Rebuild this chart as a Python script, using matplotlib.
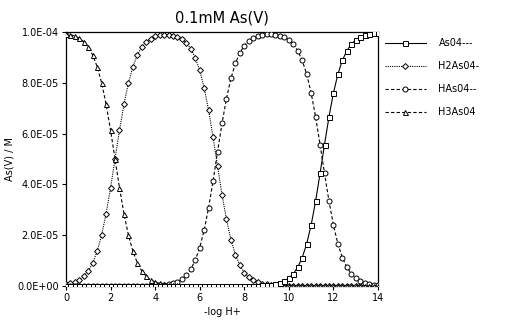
import numpy as np
import matplotlib
matplotlib.use("Agg")
import matplotlib.pyplot as plt

# pH grid: 0.0 .. 14.0 step 0.2 (71 points)
ph = [round(0.2 * i, 1) for i in range(71)]

# concentrations in units of 1e-5 M
h3aso4 = [9.94, 9.90, 9.84, 9.75, 9.62, 9.41, 9.09, 8.63, 7.99, 7.15,
          6.13, 5.00, 3.87, 2.85, 2.01, 1.37, 0.91, 0.59, 0.38, 0.24,
          0.16, 0.10, 0.06, 0.04, 0.02, 0.02, 0.01, 0.01] + [0.00] * 43

h2aso4 = [0.06, 0.10, 0.16, 0.25, 0.38, 0.59, 0.91, 1.37, 2.01, 2.85,
          3.87, 5.00, 6.13, 7.15, 7.99, 8.63, 9.09, 9.41, 9.61, 9.74,
          9.83, 9.87, 9.89, 9.89, 9.86, 9.81, 9.72, 9.57, 9.34, 8.99,
          8.49, 7.80, 6.91, 5.86, 4.71, 3.60, 2.62, 1.83, 1.24, 0.82,
          0.53, 0.34, 0.22, 0.14, 0.09, 0.06, 0.04, 0.02, 0.01, 0.01,
          0.01] + [0.00] * 20

haso4 = [0.00] * 18 + [
          0.01, 0.01, 0.02, 0.03, 0.04, 0.07, 0.11, 0.17, 0.27, 0.43,
          0.66, 1.01, 1.51, 2.20, 3.09, 4.14, 5.29, 6.40, 7.38, 8.17,
          8.76, 9.18, 9.46, 9.65, 9.77, 9.85, 9.89, 9.91, 9.92, 9.90,
          9.86, 9.80, 9.69, 9.52, 9.26, 8.88, 8.34, 7.60, 6.66, 5.57,
          4.43, 3.34, 2.40, 1.66, 1.12, 0.74, 0.48, 0.31, 0.20, 0.12,
          0.08, 0.05, 0.03]

aso4 = [0.00] * 42 + [
          0.01, 0.01, 0.02, 0.03, 0.05, 0.08, 0.12, 0.20, 0.31, 0.48,
          0.74, 1.12, 1.66, 2.40, 3.34, 4.43, 5.57, 6.66, 7.60, 8.34,
          8.88, 9.26, 9.52, 9.69, 9.80, 9.88, 9.92, 9.95, 9.97]

labels = ["As04---", "H2As04-", "HAs04--", "H3As04"]
xticks = [0, 2, 4, 6, 8, 10, 12, 14]
yticks = [0.0, 2.0e-5, 4.0e-5, 6.0e-5, 8.0e-5, 1.0e-4]
ytick_labels = ["0.0E+00", "2.0E-05", "4.0E-05", "6.0E-05", "8.0E-05", "1.0E-04"]

scale = 1e-5

fig = plt.figure(figsize=(5.2, 3.3), dpi=100)
ax = fig.add_axes([66 / 520, 1 - 286 / 330, (378 - 66) / 520, (286 - 32) / 330])

common = dict(color="black", lw=0.8, mfc="white", mec="black", mew=0.7, ms=3.6)
ax.plot(ph, np.array(h2aso4) * scale, ls=(0, (1, 1)), marker="D", label=labels[1],
        zorder=3, **{**common, "ms": 3.0})
ax.plot(ph, np.array(haso4) * scale, ls=(0, (3, 2)), marker="o", label=labels[2],
        zorder=3, **common)
ax.plot(ph, np.array(h3aso4) * scale, ls=(0, (3, 2)), marker="^", label=labels[3],
        zorder=3, **common)
ax.plot(ph, np.array(aso4) * scale, ls="-", marker="s", label=labels[0],
        zorder=4, **common)

ax.set_xlim(0, 14)
ax.set_ylim(0, 1.0e-4)
ax.set_xticks(xticks)
ax.set_xticklabels([str(t) for t in xticks])
ax.set_yticks(yticks)
ax.set_yticklabels(ytick_labels)
ax.tick_params(direction="out", length=3, width=0.8, labelsize=7, pad=2)
for s in ax.spines.values():
    s.set_linewidth(0.9)

ax.set_title("0.1mM As(V)", fontsize=10.5, pad=7)
ax.set_xlabel("-log H+", fontsize=7, labelpad=3)
ax.set_ylabel("As(V) / M", fontsize=7, labelpad=2)

handles, labs = ax.get_legend_handles_labels()
order = [3, 0, 1, 2]
fig.legend([handles[i] for i in order], [labs[i] for i in order],
           loc="upper left", bbox_to_anchor=(385 / 520, 1 - 38 / 330),
           frameon=False, fontsize=7, handlelength=4.2, handletextpad=1.3,
           labelspacing=1.35, numpoints=1, borderaxespad=0, borderpad=0)

fig.savefig("out.png", dpi=100)
